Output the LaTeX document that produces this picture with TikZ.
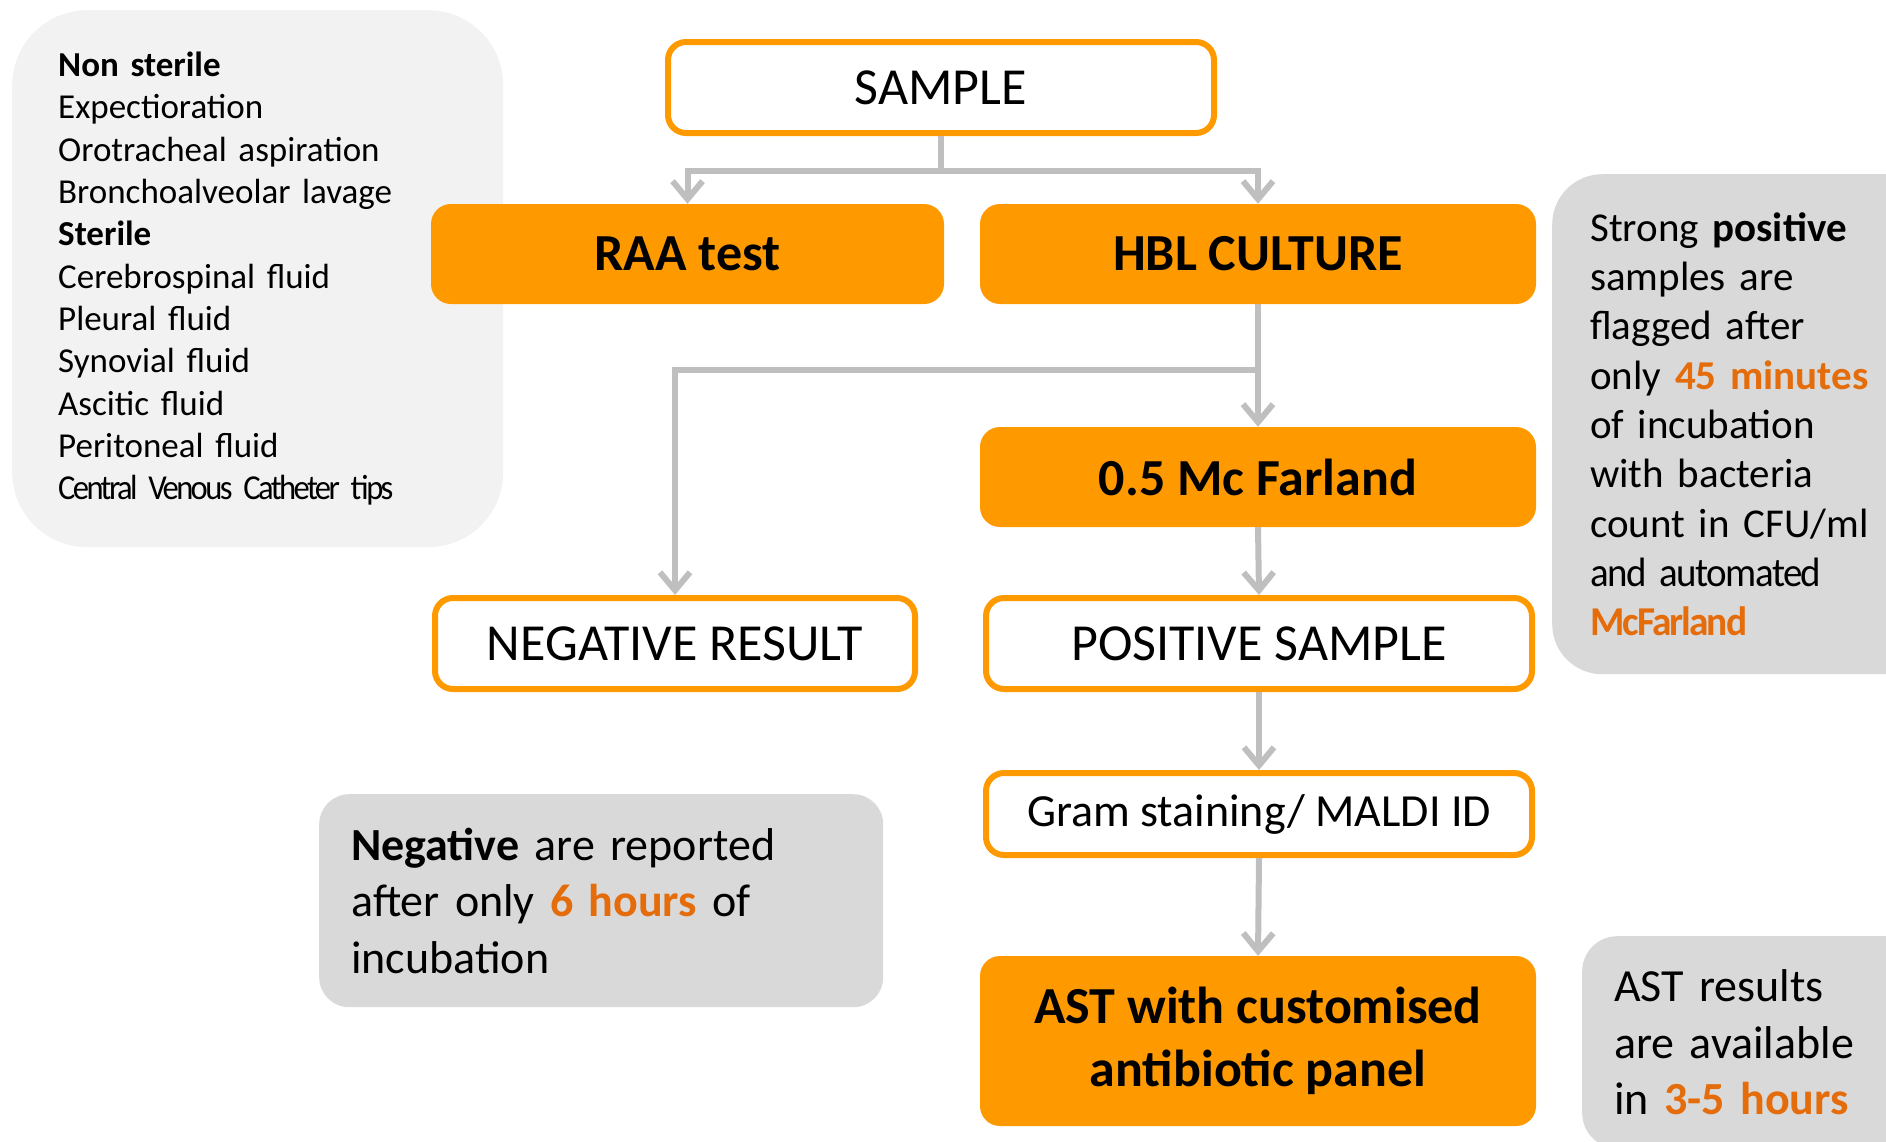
\documentclass[tikz,border=0pt]{standalone}
\usepackage{fontspec}
\usepackage{graphicx}
\setmainfont{Carlito}
\usetikzlibrary{arrows.meta}

\definecolor{boxorange}{RGB}{255,153,0}
\definecolor{textorange}{RGB}{228,108,10}
\definecolor{linegray}{RGB}{191,191,191}
\definecolor{notegray}{RGB}{217,217,217}
\definecolor{listgray}{RGB}{242,242,242}

\tikzset{
  stepwhite/.style={draw=boxorange, line width=6pt, fill=white, rounded corners=18pt,
    minimum width=546pt, minimum height=91pt, font=\fontsize{52}{60}\selectfont},
  steporange/.style={fill=boxorange, rounded corners=20pt, minimum width=556pt,
    minimum height=100pt, align=center, font=\bfseries\fontsize{52}{63}\selectfont},
  note/.style={fill=notegray, rounded corners=50pt, inner xsep=0pt, anchor=north west, align=left},
  flow/.style={draw=linegray, line width=6pt, -{Straight Barb[length=18pt,width=30pt]}},
}
\newcommand{\hl}[1]{\textcolor{textorange}{\textbf{#1}}}
% squeezed line, as set in the slide: tracking, then horizontal scale
\newcommand{\narrow}[3]{\scalebox{#2}[1]{\addfontfeature{LetterSpace=#1}#3}}

\begin{document}
\begin{tikzpicture}[x=1pt,y=-1pt]
  \path[use as bounding box, clip] (0,0) rectangle (1886,1141);

  % side notes
  \node[note, fill=listgray, rounded corners=75pt, minimum width=491pt, minimum height=537pt,
    text width=399pt, font=\fontsize{35}{42.3}\selectfont] (sources) at (12,10)
    {\textbf{Non sterile}\\Expectioration\\Orotracheal aspiration\\Bronchoalveolar lavage\\
     \textbf{Sterile}\\Cerebrospinal fluid\\Pleural fluid\\Synovial fluid\\Ascitic fluid\\
     Peritoneal fluid\\\narrow{-8}{0.93}{Central Venous Catheter tips}};
  \node[note, minimum width=400pt, minimum height=500pt, text width=324pt,
    font=\fontsize{41}{49.3}\selectfont] (posnote) at (1552,174)
    {Strong \textbf{positive}\\samples are\\flagged after\\only \hl{45 minutes}\\of incubation\\
     with bacteria\\count in CFU/ml\\\narrow{-4}{0.95}{and automated}\\
     \hl{\narrow{-5}{0.96}{McFarland}}};
  \node[note, rounded corners=30pt, minimum width=564pt, minimum height=213pt, text width=500pt,
    font=\fontsize{46}{56.5}\selectfont] (negnote) at (319,794)
    {\textbf{Negative} are reported\\after only \hl{6 hours} of\\incubation};
  \node[note, rounded corners=35pt, minimum width=400pt, minimum height=212pt, text width=336pt,
    font=\fontsize{46}{56.5}\selectfont] (astnote) at (1582,936)
    {AST results\\are available\\in \hl{3-5 hours}};

  % workflow
  \node[stepwhite] (sample) at (941,87.5) {SAMPLE};
  \node[steporange, minimum width=513pt] (raa) at (687.5,254) {RAA test};
  \node[steporange] (hbl) at (1258,254) {HBL CULTURE};
  \node[steporange] (mcf) at (1258,477) {0.5 Mc Farland};
  \node[stepwhite, minimum width=480pt] (neg) at (675,643.5) {NEGATIVE RESULT};
  \node[stepwhite] (pos) at (1259,643.5) {POSITIVE SAMPLE};
  \node[stepwhite, minimum height=82pt, font=\fontsize{46}{55}\selectfont] (gram) at (1259,814)
    {Gram staining/ MALDI ID};
  \node[steporange, minimum height=170pt] (ast) at (1258,1041)
    {AST with customised\\antibiotic panel};

  \coordinate (split) at ([yshift=-35pt]sample.south);
  \coordinate (fork) at ([yshift=-66pt]hbl.south);

  \draw[flow] (split) -| (raa.north);
  \draw[flow] (sample.south) -- (split) -| (hbl.north);
  \draw[flow] (hbl.south) -- (mcf.north);
  \draw[flow] (fork) -| (neg.north);
  \draw[flow] (mcf.south) -- (pos.north);
  \draw[flow] (pos.south) -- (gram.north);
  \draw[flow] (gram.south) -- (ast.north);
\end{tikzpicture}
\end{document}
